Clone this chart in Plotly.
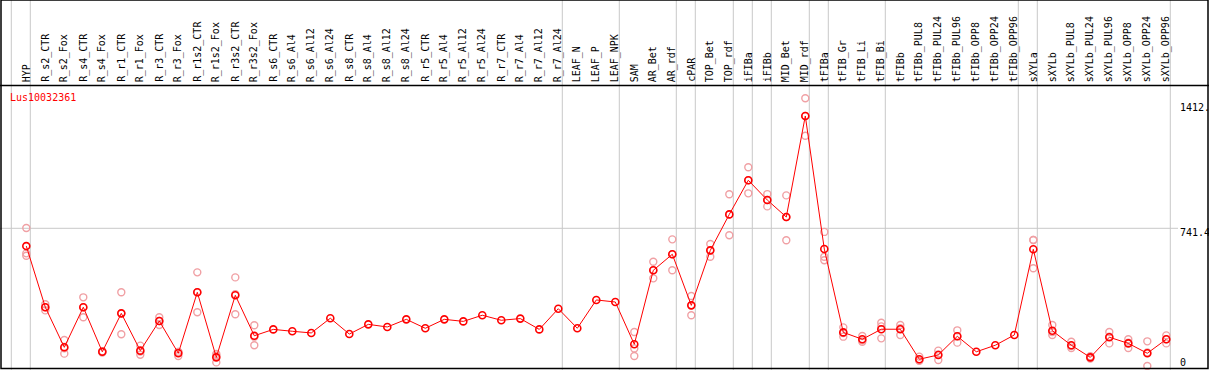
import plotly.graph_objects as go

categories = ["HYP", "R_s2_CTR", "R_s2_Fox", "R_s4_CTR", "R_s4_Fox", "R_r1_CTR", "R_r1_Fox",
              "R_r3_CTR", "R_r3_Fox", "R_r1s2_CTR", "R_r1s2_Fox", "R_r3s2_CTR", "R_r3s2_Fox",
              "R_s6_CTR", "R_s6_Al4", "R_s6_Al12", "R_s6_Al24", "R_s8_CTR", "R_s8_Al4", "R_s8_Al12",
              "R_s8_Al24", "R_r5_CTR", "R_r5_Al4", "R_r5_Al12", "R_r5_Al24", "R_r7_CTR", "R_r7_Al4",
              "R_r7_Al12", "R_r7_Al24", "LEAF_N", "LEAF_P", "LEAF_NPK", "SAM", "AR_Bet", "AR_rdf",
              "cPAR", "TOP_Bet", "TOP_rdf", "iFIBa", "iFIBb", "MID_Bet", "MID_rdf", "tFIBa",
              "tFIB_Gr", "tFIB_Li", "tFIB_Bi", "tFIBb", "tFIBb_PUL8", "tFIBb_PUL24", "tFIBb_PUL96",
              "tFIBb_OPP8", "tFIBb_OPP24", "tFIBb_OPP96", "sXYLa", "sXYLb", "sXYLb_PUL8",
              "sXYLb_PUL24", "sXYLb_PUL96", "sXYLb_OPP8", "sXYLb_OPP24", "sXYLb_OPP96"]

mean_values = [646, 318, 103, 318, 79, 285, 85, 244, 71, 398, 49, 382, 165,
               199, 189, 180, 259, 174, 226, 212, 253, 205, 253, 242, 275, 248, 257, 199, 310,
               205, 357, 346, 119, 516, 602, 328, 623, 816, 999, 893, 802, 1344, 630,
               183, 146, 200, 200, 39, 62, 162, 79, 114, 169, 629, 192, 114, 49, 157, 124, 71, 146]

rep1 = [743, 334, 142, 371, 82, 398, 112, 264, 78, 505, 67, 478, 221,
        None, None, None, None, None, None, None, None, None, None, None, None, None, None, None, None,
        None, None, None, 185, 562, 682, 378, 657, 924, 1069, 925, 918, 1439, 722,
        210, 164, 235, 223, 53, 85, 194, None, None, None, 679, 223, 133, 55, 185, 146, 135, 167]
rep2 = [607, 318, 98, 318, 80, 285, 80, 244, 78, 398, 58, 388, 160,
        None, None, None, None, None, None, None, None, None, None, None, None, None, None, None, None,
        None, None, None, 97, 516, 602, 328, 623, 816, 999, 893, 802, 1344, 589,
        180, 140, 215, 205, 33, 65, 162, None, None, None, 679, 185, 110, 49, 160, 128, 75, 146]
rep3 = [594, 301, 69, 264, 75, 173, 63, 223, 56, 291, 22, 280, 114,
        None, None, None, None, None, None, None, None, None, None, None, None, None, None, None, None,
        None, None, None, 56, 473, 516, 275, 589, 704, 929, 859, 677, 1238, 570,
        160, 133, 151, 169, 31, 35, 128, None, None, None, 527, 169, 99, 43, 124, 99, 3, 124]

# last category of each group (a vertical separator follows it)
group_ends = ["HYP", "R_r7_Al24", "LEAF_NPK", "AR_rdf", "cPAR", "TOP_rdf", "iFIBa", "iFIBb",
              "MID_rdf", "tFIBa", "tFIB_Bi", "tFIBb_OPP96", "sXYLa", "sXYLb_OPP96"]

y_tick_values = [1412, 741.4, 0]
y_tick_labels = ["1412.", "741.4", "0"]
gene_name = "Lus10032361"

W, H = 1209, 370
FONT = "DejaVu Sans Mono"
xs = list(range(len(categories)))

fig = go.Figure()
for reps in (rep1, rep2, rep3):
    fig.add_trace(go.Scatter(
        x=xs, y=reps, mode="markers",
        marker=dict(symbol="circle-open", size=7, color="#f0a0a4", line=dict(width=1.4, color="#f0a0a4")),
        hoverinfo="skip", showlegend=False))
fig.add_trace(go.Scatter(
    x=xs, y=mean_values, mode="lines+markers",
    line=dict(color="#ff0000", width=1),
    marker=dict(symbol="circle-open", size=7, color="#ff0000", line=dict(width=1.6, color="#ff0000")),
    showlegend=False))

x_range = [-1.384, 62.247]
y_range = [-18.8, 1966.2]

shapes = []
sep_offset = 4 / 19.0
sep_positions = [-1 + sep_offset] + [categories.index(g) + sep_offset for g in group_ends]
for sx in sep_positions:
    shapes.append(dict(type="line", xref="x", yref="paper", x0=sx, x1=sx, y0=0, y1=1,
                       line=dict(color="#c8c8c8", width=1), layer="below"))
# horizontal grid line at middle tick
shapes.append(dict(type="line", xref="paper", yref="y", x0=0, x1=1178 / W,
                   y0=y_tick_values[1], y1=y_tick_values[1],
                   line=dict(color="#c8c8c8", width=1), layer="below"))
# header separator
shapes.append(dict(type="line", xref="paper", yref="paper", x0=0, x1=1, y0=1 - 85.5 / H, y1=1 - 85.5 / H,
                   line=dict(color="black", width=1.5)))
# frame
shapes.append(dict(type="rect", xref="paper", yref="paper", x0=1 / W, x1=1208 / W, y0=1 - 368.5 / H, y1=1,
                   line=dict(color="black", width=1.5)))

annotations = []
for i, c in enumerate(categories):
    annotations.append(dict(x=i, y=1 - 84 / H, xref="x", yref="paper", text=c, textangle=-90,
                            showarrow=False, xanchor="center", yanchor="bottom",
                            font=dict(family=FONT, size=10, color="black")))
annotations.append(dict(x=8 / W, y=1 - 97.5 / H, xref="paper", yref="paper", text=gene_name,
                        showarrow=False, xanchor="left", yanchor="middle",
                        font=dict(family=FONT, size=10, color="#ff0000")))
for v, lab in zip(y_tick_values, y_tick_labels):
    if v == 0:
        annotations.append(dict(x=1178 / W, y=v, xref="paper", yref="y", text=lab, showarrow=False,
                                xanchor="left", yanchor="bottom", yshift=-3,
                                font=dict(family=FONT, size=10, color="black")))
    else:
        annotations.append(dict(x=1178 / W, y=v, xref="paper", yref="y", text=lab, showarrow=False,
                                xanchor="left", yanchor="top", yshift=3,
                                font=dict(family=FONT, size=10, color="black")))

fig.update_layout(
    width=W, height=H, margin=dict(l=0, r=0, t=0, b=0),
    paper_bgcolor="white", plot_bgcolor="white",
    xaxis=dict(range=x_range, visible=False, showgrid=False, zeroline=False),
    yaxis=dict(range=y_range, visible=False, showgrid=False, zeroline=False),
    shapes=shapes, annotations=annotations,
)

fig.write_html("out.html", config={"displayModeBar": False},
               post_script="document.body.style.margin='0';document.body.style.padding='0';")
